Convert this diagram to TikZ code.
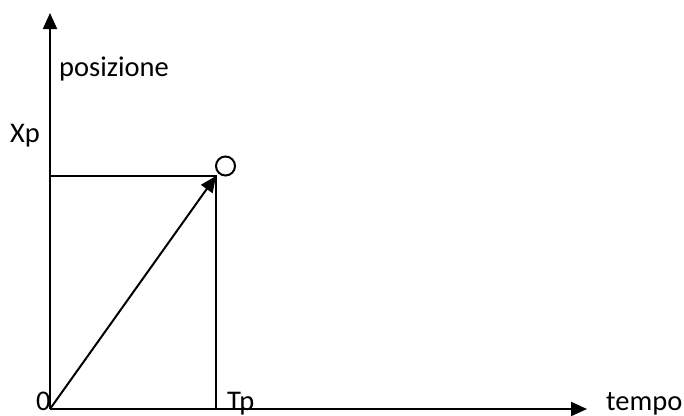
\documentclass[tikz,border=0pt]{standalone}
\usepackage{fontspec}
\setmainfont{Carlito}
\usetikzlibrary{arrows.meta}
\begin{document}
\begin{tikzpicture}[x=1pt,y=-1pt,
  ln/.style={line width=2pt,black},
  arr/.style={ln,-{Triangle[length=16pt,width=14pt]}},
  lbl/.style={font=\fontsize{28.5}{32}\selectfont,inner sep=0pt}]
\useasboundingbox (0,0) rectangle (684,415);
\coordinate (O) at (50,409);
\coordinate (Ytip) at (50,13);
\coordinate (Xtip) at (587,409);
\coordinate (P) at (216,176);
\coordinate (Py) at (50,176);
\coordinate (Px) at (216,409);
\draw[arr] (O) -- (Ytip);
\draw[arr] (O) -- (Xtip);
\draw[ln] (Py) -- (P) -- (Px);
\draw[arr] (O) -- (P);
\node[draw,circle,line width=2pt,minimum size=19pt,inner sep=0pt] (c) at (225.5,166) {};
\node[lbl,anchor=base west] (pos) at (59,76) {posizione};
\node[lbl,anchor=base west] (xp) at (10,142) {Xp};
\node[lbl,anchor=base west] (zero) at (36,410) {0};
\node[lbl,anchor=base west] (tp) at (227,410) {Tp};
\node[lbl,anchor=base west] (tempo) at (606,410) {tempo};
\end{tikzpicture}
\end{document}
